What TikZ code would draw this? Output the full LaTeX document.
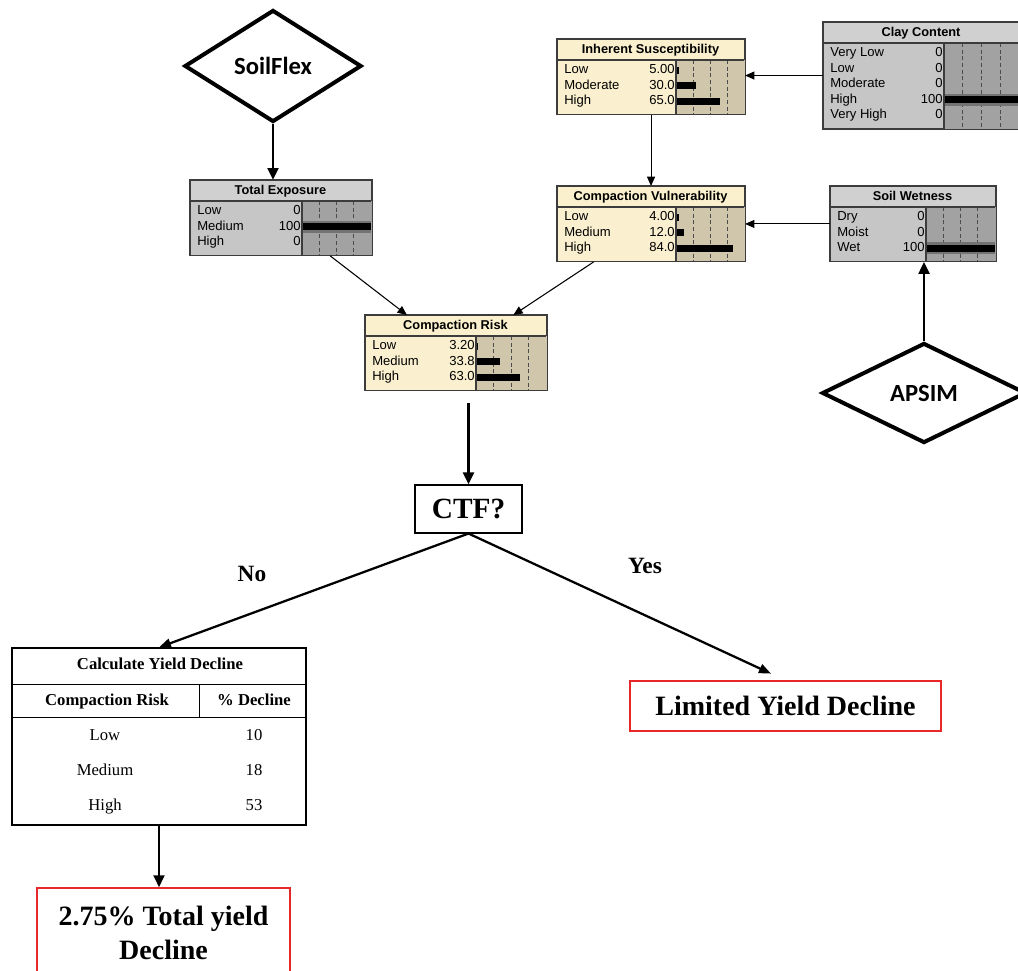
\documentclass[tikz,border=0pt]{standalone}
\usepackage{fontspec}
\setmainfont{Liberation Serif}
\setsansfont{Liberation Sans}
\newfontfamily\carlito{Carlito}
\usepackage{tikz}
\usetikzlibrary{shapes.geometric, arrows.meta, positioning, calc}

\definecolor{creamTitle}{RGB}{250, 240, 205}
\definecolor{creamBody}{RGB}{250, 240, 208}
\definecolor{creamBar}{RGB}{208, 198, 172}
\definecolor{greyTitle}{RGB}{208, 208, 208}
\definecolor{greyBody}{RGB}{198, 198, 198}
\definecolor{greyBar}{RGB}{162, 162, 162}
\definecolor{bnEdge}{RGB}{60, 60, 60}
\definecolor{boxRed}{RGB}{232, 40, 40}

\tikzset{
  bnframe/.style={
    rectangle, draw=bnEdge, line width=0.8pt,
    anchor=north west, inner sep=0pt
  },
  bnline/.style={
    draw=bnEdge, line width=0.8pt
  },
  bntitle/.style={
    inner sep=0pt, text height=7pt, text depth=2pt,
    font=\sffamily\bfseries\fontsize{9.6}{10}\selectfont
  },
  bnlabel/.style={
    inner sep=0pt, text height=7.2pt, text depth=2pt,
    font=\sffamily\fontsize{9.8}{10}\selectfont
  },
  bndash/.style={
    densely dashed, line width=0.5pt, color=black!70
  },
  source/.style={
    diamond, draw, line width=3pt, inner sep=0pt,
    font=\carlito\bfseries\fontsize{18.5}{20}\selectfont
  },
  outbox/.style={
    rectangle, draw=boxRed, line width=1pt,
    align=center, font=\bfseries\fontsize{21}{26}\selectfont
  },
  tabtext/.style={
    inner sep=0pt, text height=8.8pt, text depth=2.8pt,
    font=\fontsize{12.5}{14}\selectfont
  },
  tabhead/.style={
    tabtext, font=\bfseries\fontsize{12.5}{14}\selectfont
  },
  linkarrow/.style={
    -{Triangle[length=7pt,width=6pt]}, line width=0.8pt
  },
  flowarrow/.style={
    -{Triangle[length=9pt,width=8pt]}, line width=2.2pt
  },
  branch/.style={
    -{Triangle[length=9pt,width=7pt]}, line width=1.7pt
  }
}

% Netica style node: name, top left corner, width, split, rows, colours, title, rows
\newcommand{\bnnode}[8]{%
  \pgfmathsetmacro\bnh{21+#5*15.6+7}%
  \pgfmathsetmacro\bnbw{#3-#4}%
  \node[bnframe, fill=#6Body, minimum width=#3*0.75pt, minimum height=\bnh*0.75pt] (#1) at #2 {};
  \fill[#6Title] (#1.north west) rectangle ([shift={(#3,21)}]#1.north west);
  \fill[#6Bar] ([shift={(#4,21)}]#1.north west) rectangle (#1.south east);
  \foreach \k in {1,2,3}
    \draw[bndash] ([shift={(#4+\k*\bnbw/4,21)}]#1.north west) -- ([shift={(#4+\k*\bnbw/4,0)}]#1.south west);
  \node[bntitle] at ([shift={(#3/2,11)}]#1.north west) {#7};
  \foreach \lab/\val/\pct [count=\i] in {#8} {
    \pgfmathsetmacro\y{31+(\i-1)*15.6}
    \node[bnlabel, anchor=west] at ([shift={(7,\y)}]#1.north west) {\lab};
    \node[bnlabel, anchor=east] at ([shift={(#4-1,\y)}]#1.north west) {\val};
    \ifdim\pct pt>99pt
      \fill[black!55] ([shift={(#4,\y-6)}]#1.north west) rectangle ++(\bnbw,12);
    \fi
    \fill ([shift={(#4,\y-3.5)}]#1.north west) rectangle ++(\pct/100*\bnbw,7);
  }
  \draw[bnline] ([shift={(0,21)}]#1.north west) -- ([shift={(#3,21)}]#1.north west);
  \draw[bnline] ([shift={(#4,21)}]#1.north west) -- ([shift={(#4,0)}]#1.south west);
  \draw[bnline] (#1.north west) rectangle (#1.south east);
}

\begin{document}
\begin{tikzpicture}[x=0.75pt, y=-0.75pt]

  \useasboundingbox (0,0) rectangle (1018,971);
  \clip (0,0) rectangle (1018,971);
  \fill[white] (0,0) rectangle (1018,971);

  % model inputs
  \node[source, aspect=1.58, minimum width=177*0.75pt, minimum height=112*0.75pt]
    (soilflex) at (273,66) {SoilFlex};
  \node[source, aspect=2.04, minimum width=204*0.75pt, minimum height=100*0.75pt]
    (apsim) at (924,393) {APSIM};

  % network nodes
  \bnnode{te}{(190,180)}{181}{112}{3}{grey}{Total Exposure}
    {Low/0/0, Medium/100/100, High/0/0}
  \bnnode{is}{(557,39)}{187}{119}{3}{cream}{Inherent Susceptibility}
    {Low/5.00/5, Moderate/30.0/30, High/65.0/65}
  \bnnode{cc}{(823,22)}{196}{121}{5}{grey}{Clay Content}
    {Very Low/0/0, Low/0/0, Moderate/0/0, High/100/100, Very High/0/0}
  \bnnode{cv}{(557,186)}{187}{119}{3}{cream}{Compaction Vulnerability}
    {Low/4.00/4, Medium/12.0/12, High/84.0/84}
  \bnnode{sw}{(830,186)}{165}{96}{3}{grey}{Soil Wetness}
    {Dry/0/0, Moist/0/0, Wet/100/100}
  \bnnode{cr}{(365,315)}{181}{111}{3}{cream}{Compaction Risk}
    {Low/3.20/3.2, Medium/33.8/33.8, High/63.0/63}

  % decision
  \node[draw, line width=0.8pt, minimum width=107*0.75pt, minimum height=48*0.75pt,
    font=\bfseries\fontsize{22}{24}\selectfont] (ctf) at (468.5,509) {CTF?};

  \node[font=\bfseries\fontsize{17.5}{20}\selectfont] (no) at (252,574) {No};
  \node[font=\bfseries\fontsize{17.5}{20}\selectfont] (yes) at (645,566) {Yes};

  % yield decline table
  \node[draw, line width=0.9pt, minimum width=294*0.75pt, minimum height=177*0.75pt,
    inner sep=0pt] (calc) at (159,736.5) {};
  \draw[line width=0.9pt] ([shift={(0,37)}]calc.north west) -- ([shift={(294,37)}]calc.north west);
  \draw[line width=0.9pt] ([shift={(0,70)}]calc.north west) -- ([shift={(294,70)}]calc.north west);
  \draw[line width=0.9pt] ([shift={(188,37)}]calc.north west) -- ([shift={(188,70)}]calc.north west);

  \node[tabhead] (calctitle) at (160,665) {Calculate Yield Decline};
  \node[tabhead] (colrisk) at (107,701) {Compaction Risk};
  \node[tabhead] (coldecl) at (254,701) {\% Decline};
  \foreach \lev/\dec [count=\r] in {Low/10, Medium/18, High/53} {
    \node[tabtext] (lev\r) at (105,701+\r*35) {\lev};
    \node[tabtext] (dec\r) at (254,701+\r*35) {\dec};
  }

  % outcomes
  \node[outbox, minimum width=311*0.75pt, minimum height=50*0.75pt] (limited)
    at (785.5,706) {Limited Yield Decline};
  \node[outbox, minimum width=253*0.75pt, minimum height=90*0.75pt] (final)
    at (163.5,933) {2.75\% Total yield\\Decline};

  \draw[flowarrow] (soilflex.south) -- (soilflex.south |- te.north);
  \draw[linkarrow] (cc.west) -- (cc.west -| is.east);
  \draw[linkarrow] (is) -- (cv);
  \draw[linkarrow] (sw.west) -- (sw.west -| cv.east);
  \draw[flowarrow] (apsim.north) -- (apsim.north |- sw.south);
  \draw[linkarrow] (te) -- (cr);
  \draw[linkarrow] (cv) -- (cr);
  \draw[flowarrow, shorten <=9pt] (cr.south -| ctf.north) -- (ctf.north);
  \draw[branch] (ctf.south) -- (calc.north);
  \draw[branch, shorten >=12pt] (ctf.south) -- (limited.north);
  \draw[flowarrow] (calc.south) -- (calc.south |- final.north);

\end{tikzpicture}
\end{document}
